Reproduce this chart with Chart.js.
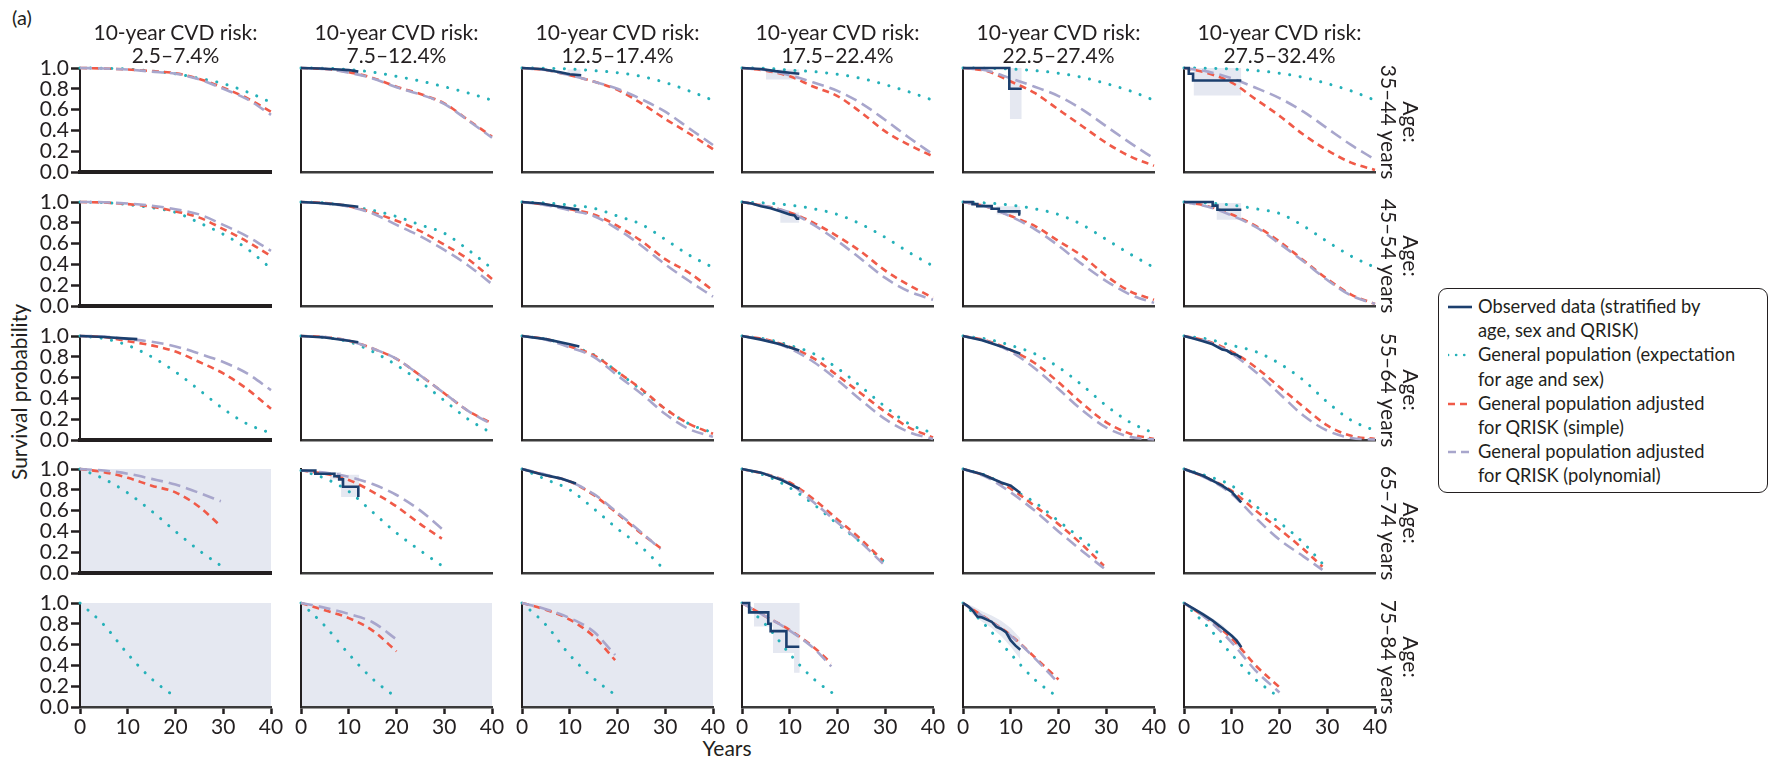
<!DOCTYPE html>
<html lang="en">
<head>
<meta charset="UTF-8">
<title>Survival by age and QRISK band</title>
<script src="https://cdn.jsdelivr.net/npm/chart.js"></script>
<style>
  body { margin: 0; background: #fff; font-family: Lato, "Open Sans", sans-serif; color: #231f20; }
  #wrap { position: relative; width: 1769px; height: 764px; overflow: hidden; }
  #wrap canvas { position: absolute; }
  .txt { position: absolute; font-size: 21px; line-height: 23.4px; white-space: nowrap; text-align: center; }
  .rot { position: absolute; font-size: 21px; line-height: 21.5px; white-space: nowrap; text-align: center; transform: translate(-50%, -50%) rotate(90deg); }
  #legend { position: absolute; left: 1438px; top: 288px; width: 330px; height: 205px; box-sizing: border-box;
            border: 1.5px solid #231f20; border-radius: 9px; padding-top: 5px; font-size: 18.3px; line-height: 24.2px; }
  .entry { position: relative; padding-left: 39px; white-space: nowrap; }
  .entry svg { position: absolute; left: 9px; top: 10px; }
</style>
</head>
<body>
<div id="wrap">
  <div class="txt" style="left:12px;top:6px;text-align:left;font-size:20px;">(a)</div>
  <div class="txt" style="left:727px;top:736px;transform:translateX(-50%);">Years</div>
  <div class="txt" style="left:19px;top:392px;transform:translate(-50%,-50%) rotate(-90deg);">Survival probability</div>
  <div id="legend"></div>
</div>

<script>
// ---- labels ----
const risks = ['2.5\u20137.4%', '7.5\u201312.4%', '12.5\u201317.4%', '17.5\u201322.4%', '22.5\u201327.4%', '27.5\u201332.4%'];
const ages = ['35\u201344 years', '45\u201354 years', '55\u201364 years', '65\u201374 years', '75\u201384 years'];
const legendLabels = [
  ['Observed data (stratified by', 'age, sex and QRISK)'],
  ['General population (expectation', 'for age and sex)'],
  ['General population adjusted', 'for QRISK (simple)'],
  ['General population adjusted', 'for QRISK (polynomial)']
];

// ---- x grids (years) ----
const years40 = [0, 5, 10, 15, 20, 25, 30, 35, 40];
const years30 = [0, 5, 10, 15, 20, 25, 30];
const years20 = [0, 5, 10, 15, 20];
// last year reached by the model curves in the two older rows
const lastYear65 = [29.5, 29.5, 29, 29.5, 29.5, 29];
const lastYear75 = [20, 20, 19.5, 18.7, 20, 20];

// ---- age 35-44 ----
const gp35 = [
  [1, 0.998, 0.99, 0.97, 0.945, 0.90, 0.85, 0.77, 0.67],
  [1, 0.997, 0.985, 0.96, 0.92, 0.875, 0.82, 0.76, 0.69],
  [1, 0.998, 0.99, 0.975, 0.955, 0.92, 0.86, 0.78, 0.69],
  [1, 0.997, 0.98, 0.965, 0.94, 0.90, 0.84, 0.77, 0.69],
  [1, 0.998, 0.99, 0.975, 0.95, 0.91, 0.85, 0.78, 0.69],
  [1, 0.998, 0.99, 0.975, 0.95, 0.91, 0.85, 0.78, 0.69]
];
const sm35 = [
  [1, 0.995, 0.985, 0.97, 0.95, 0.895, 0.81, 0.71, 0.58],
  [1, 0.99, 0.96, 0.905, 0.82, 0.75, 0.66, 0.50, 0.34],
  [1, 0.98, 0.93, 0.87, 0.79, 0.66, 0.51, 0.37, 0.22],
  [1, 0.975, 0.92, 0.82, 0.73, 0.57, 0.39, 0.26, 0.15],
  [1, 0.97, 0.87, 0.76, 0.60, 0.44, 0.28, 0.15, 0.06],
  [1, 0.95, 0.86, 0.70, 0.54, 0.36, 0.21, 0.09, 0.02]
];
const pl35 = [
  [1, 0.995, 0.985, 0.965, 0.945, 0.89, 0.80, 0.70, 0.55],
  [1, 0.99, 0.955, 0.90, 0.815, 0.745, 0.655, 0.495, 0.33],
  [1, 0.98, 0.93, 0.87, 0.80, 0.70, 0.58, 0.42, 0.26],
  [1, 0.98, 0.93, 0.86, 0.78, 0.66, 0.50, 0.33, 0.17],
  [1, 0.975, 0.90, 0.82, 0.73, 0.60, 0.44, 0.28, 0.13],
  [1, 0.965, 0.90, 0.81, 0.71, 0.58, 0.42, 0.26, 0.12]
];
const obs35 = [
  null,
  [[0, 1], [4, 0.995], [8, 0.985], [10, 0.98], [12, 0.965]],
  [[0, 1], [4, 0.99], [8, 0.96], [10, 0.94], [12.4, 0.93]],
  [[0, 1], [4, 0.99], [7, 0.97], [10, 0.955], [12, 0.945]],
  [[0, 1], [9.7, 0.80], [12.3, 0.80]],
  [[0, 1], [1, 0.945], [1.9, 0.88], [12, 0.88]]
];
const ci35 = [
  null, null,
  [[9.5, 0.92, 0.985], [12.3, 0.92, 0.985]],
  [[5, 0.89, 0.985], [12, 0.89, 0.985]],
  [[9.8, 0.51, 1], [12.3, 0.51, 1]],
  [[2, 0.735, 1], [12, 0.735, 1]]
];
const step35 = [false, false, false, false, true, true];

// ---- age 45-54 ----
const gp45 = [
  [1, 0.995, 0.975, 0.945, 0.90, 0.80, 0.69, 0.55, 0.36],
  [1, 0.99, 0.96, 0.92, 0.86, 0.78, 0.70, 0.54, 0.36],
  [1, 0.99, 0.97, 0.94, 0.865, 0.785, 0.64, 0.49, 0.37],
  [1, 0.99, 0.97, 0.935, 0.88, 0.785, 0.66, 0.515, 0.385],
  [1, 0.99, 0.97, 0.935, 0.88, 0.78, 0.64, 0.50, 0.37],
  [1, 0.99, 0.97, 0.935, 0.89, 0.77, 0.62, 0.48, 0.37]
];
const sm45 = [
  [1, 0.995, 0.98, 0.955, 0.91, 0.85, 0.74, 0.62, 0.48],
  [1, 0.99, 0.96, 0.90, 0.82, 0.72, 0.59, 0.45, 0.26],
  [1, 0.975, 0.93, 0.88, 0.77, 0.625, 0.45, 0.32, 0.15],
  [1, 0.96, 0.90, 0.80, 0.67, 0.52, 0.34, 0.20, 0.08],
  [1, 0.955, 0.865, 0.77, 0.625, 0.48, 0.29, 0.14, 0.06],
  [1, 0.96, 0.88, 0.77, 0.62, 0.44, 0.26, 0.11, 0.02]
];
const pl45 = [
  [1, 0.997, 0.985, 0.965, 0.93, 0.88, 0.78, 0.67, 0.53],
  [1, 0.985, 0.955, 0.89, 0.78, 0.67, 0.54, 0.39, 0.21],
  [1, 0.97, 0.92, 0.865, 0.74, 0.58, 0.40, 0.24, 0.09],
  [1, 0.96, 0.90, 0.78, 0.625, 0.45, 0.27, 0.14, 0.06],
  [1, 0.955, 0.86, 0.74, 0.58, 0.40, 0.24, 0.11, 0.03],
  [1, 0.955, 0.87, 0.76, 0.60, 0.43, 0.25, 0.10, 0.02]
];
const obs45 = [
  null,
  [[0, 1], [4, 0.99], [8, 0.975], [12, 0.955]],
  [[0, 1], [4, 0.985], [8, 0.955], [12, 0.925]],
  [[0, 1], [2, 0.985], [4, 0.96], [6, 0.94], [8, 0.91], [10, 0.88], [11, 0.87], [11.5, 0.84], [12, 0.84]],
  [[0, 1], [2, 0.98], [3, 0.96], [6, 0.935], [7.5, 0.91], [11.8, 0.88], [12, 0.88]],
  [[0, 1], [6, 0.965], [7, 0.925], [12, 0.925]]
];
const ci45 = [
  null, null, null,
  [[8, 0.80, 0.90], [12, 0.80, 0.90]],
  [[7, 0.88, 0.96], [12, 0.88, 0.96]],
  [[6.8, 0.83, 0.99], [12, 0.83, 0.99]]
];
const step45 = [false, false, false, false, true, true];

// ---- age 55-64 ----
const gp55 = [
  [1, 0.975, 0.91, 0.80, 0.655, 0.48, 0.30, 0.155, 0.065],
  [1, 0.985, 0.945, 0.85, 0.72, 0.56, 0.38, 0.20, 0.065],
  [1, 0.97, 0.905, 0.82, 0.655, 0.48, 0.30, 0.155, 0.07],
  [1, 0.97, 0.91, 0.83, 0.69, 0.51, 0.32, 0.155, 0.065],
  [1, 0.97, 0.91, 0.83, 0.70, 0.525, 0.33, 0.17, 0.065],
  [1, 0.97, 0.91, 0.85, 0.735, 0.575, 0.365, 0.19, 0.09]
];
const sm55 = [
  [1, 0.99, 0.95, 0.91, 0.85, 0.75, 0.64, 0.49, 0.30],
  [1, 0.99, 0.955, 0.88, 0.78, 0.62, 0.45, 0.28, 0.16],
  [1, 0.97, 0.90, 0.815, 0.655, 0.49, 0.30, 0.155, 0.06],
  [1, 0.965, 0.895, 0.785, 0.62, 0.445, 0.27, 0.12, 0.025],
  [1, 0.955, 0.865, 0.74, 0.555, 0.35, 0.17, 0.06, 0.01],
  [1, 0.95, 0.85, 0.70, 0.51, 0.32, 0.14, 0.04, 0.01]
];
const pl55 = [
  [1, 0.995, 0.97, 0.945, 0.90, 0.83, 0.75, 0.64, 0.48],
  [1, 0.99, 0.955, 0.88, 0.78, 0.62, 0.45, 0.28, 0.15],
  [1, 0.965, 0.89, 0.80, 0.62, 0.445, 0.25, 0.105, 0.03],
  [1, 0.96, 0.88, 0.75, 0.575, 0.38, 0.20, 0.075, 0.01],
  [1, 0.95, 0.85, 0.69, 0.49, 0.285, 0.12, 0.03, 0.005],
  [1, 0.945, 0.83, 0.655, 0.445, 0.235, 0.09, 0.02, 0.005]
];
const obs55 = [
  [[0, 1], [5, 0.99], [10, 0.975], [12, 0.97]],
  [[0, 1], [5, 0.985], [10, 0.955], [12, 0.94]],
  [[0, 1], [5, 0.97], [10, 0.92], [12, 0.90]],
  [[0, 1], [4, 0.965], [8, 0.92], [12, 0.86]],
  [[0, 1], [4, 0.96], [8, 0.90], [12, 0.83]],
  [[0, 1], [2, 0.975], [4, 0.95], [6, 0.92], [8, 0.87], [9, 0.86], [10, 0.83], [11, 0.82], [12, 0.79]]
];
const ci55 = [null, null, null, null, null, null];
const step55 = [false, false, false, false, false, false];

// ---- age 65-74 ----
const gp65 = [
  [1, 0.905, 0.77, 0.595, 0.40, 0.215, 0.07],
  [0.985, 0.91, 0.785, 0.585, 0.385, 0.215, 0.07],
  [1, 0.90, 0.80, 0.62, 0.425, 0.25, 0.07],
  [1, 0.935, 0.82, 0.66, 0.47, 0.29, 0.12],
  [1, 0.935, 0.81, 0.68, 0.50, 0.32, 0.145],
  [1, 0.93, 0.84, 0.645, 0.485, 0.29, 0.09]
];
const sm65 = [
  [1, 0.97, 0.915, 0.84, 0.775, 0.635, 0.45],
  [0.985, 0.955, 0.895, 0.78, 0.64, 0.47, 0.33],
  [1, 0.94, 0.88, 0.75, 0.57, 0.38, 0.24],
  [1, 0.95, 0.87, 0.71, 0.515, 0.32, 0.12],
  [1, 0.93, 0.81, 0.645, 0.47, 0.27, 0.07],
  [1, 0.91, 0.79, 0.60, 0.42, 0.23, 0.06]
];
const pl65 = [
  [1, 0.985, 0.955, 0.905, 0.85, 0.77, 0.69],
  [0.985, 0.965, 0.925, 0.855, 0.75, 0.60, 0.425],
  [1, 0.945, 0.88, 0.76, 0.58, 0.39, 0.23],
  [1, 0.95, 0.86, 0.68, 0.485, 0.29, 0.09],
  [1, 0.92, 0.775, 0.60, 0.40, 0.21, 0.045],
  [1, 0.905, 0.76, 0.53, 0.32, 0.16, 0.03]
];
const obs65 = [
  null,
  [[0, 0.985], [3, 0.955], [7, 0.93], [8, 0.90], [8.8, 0.83], [12, 0.73]],
  [[0, 1], [4, 0.95], [8, 0.91], [11.3, 0.86]],
  [[0, 1], [4, 0.965], [8, 0.90], [12, 0.81]],
  [[0, 1], [4, 0.95], [8, 0.87], [10, 0.84], [12, 0.77]],
  [[0, 1], [4, 0.935], [8, 0.84], [10, 0.78], [12, 0.68]]
];
const ci65 = [
  null,
  [[6, 0.90, 0.97], [8.4, 0.73, 0.945], [12.2, 0.73, 0.945]],
  null, null, null, null
];
const step65 = [false, true, false, false, false, false];

// ---- age 75-84 ----
const gp75 = [
  [1, 0.79, 0.51, 0.27, 0.095],
  [1, 0.78, 0.51, 0.27, 0.09],
  [1, 0.79, 0.50, 0.275, 0.10],
  [1, 0.79, 0.51, 0.27, 0.10],
  [1, 0.77, 0.51, 0.265, 0.09],
  [1, 0.77, 0.505, 0.265, 0.09]
];
const sm75 = [
  null,
  [1, 0.93, 0.855, 0.735, 0.535],
  [1, 0.935, 0.84, 0.68, 0.45],
  [1, 0.87, 0.74, 0.575, 0.42],
  [1, 0.85, 0.69, 0.48, 0.265],
  [1, 0.845, 0.66, 0.40, 0.19]
];
const pl75 = [
  null,
  [1, 0.955, 0.895, 0.815, 0.65],
  [1, 0.94, 0.855, 0.725, 0.50],
  [1, 0.87, 0.735, 0.565, 0.39],
  [1, 0.845, 0.685, 0.47, 0.23],
  [1, 0.84, 0.62, 0.35, 0.14]
];
const obs75 = [
  null, null, null,
  [[0, 1], [1.5, 0.91], [5.5, 0.80], [6, 0.73], [9.3, 0.58], [12, 0.58]],
  [[0, 1], [1, 0.97], [2, 0.93], [3, 0.87], [4, 0.86], [5, 0.84], [6, 0.82], [7, 0.77], [8, 0.75], [9, 0.72], [10, 0.64], [11, 0.59], [12, 0.55]],
  [[0, 1], [2, 0.945], [4, 0.89], [6, 0.83], [8, 0.76], [10, 0.685], [11, 0.64], [12, 0.575]]
];
const ci75 = [
  null, null, null,
  [[2.5, 0.775, 1], [6.5, 0.52, 1], [10.9, 0.33, 1], [12.1, 0.33, 1]],
  [[0, 1, 1], [2, 0.89, 0.97], [4, 0.82, 0.92], [6, 0.76, 0.88], [8, 0.68, 0.83], [10, 0.58, 0.76], [12, 0.46, 0.66]],
  [[0, 1, 1], [4, 0.86, 0.91], [8, 0.73, 0.79], [12, 0.54, 0.61]]
];
const step75 = [false, false, false, true, false, false];

// panels whose whole plotting area is shaded (no observed data)
const shaded65 = [true, false, false, false, false, false];
const shaded75 = [true, true, true, false, false, false];

const rows = [
  { grid: years40, last: null, gp: gp35, sm: sm35, pl: pl35, obs: obs35, ci: ci35, step: step35, bg: null },
  { grid: years40, last: null, gp: gp45, sm: sm45, pl: pl45, obs: obs45, ci: ci45, step: step45, bg: null },
  { grid: years40, last: null, gp: gp55, sm: sm55, pl: pl55, obs: obs55, ci: ci55, step: step55, bg: null },
  { grid: years30, last: lastYear65, gp: gp65, sm: sm65, pl: pl65, obs: obs65, ci: ci65, step: step65, bg: shaded65 },
  { grid: years20, last: lastYear75, gp: gp75, sm: sm75, pl: pl75, obs: obs75, ci: ci75, step: step75, bg: shaded75 }
];

// ---- layout ----
const colLeft = [80, 301, 522, 742, 963, 1184];
const rowTop = [68, 202, 336, 469, 603];
const PW = 191, PH = 104;
const PAD_L = 70, PAD_R = 18, PAD_T = 16, PAD_B = 44;

const INK = '#231f20';
const NAVY = '#1c3f6e';
const TEAL = '#25b1b9';
const RED = '#f05a48';
const LAV = '#a8a6cc';
const SHADE = '#e5e8f1';

Chart.defaults.font.family = 'Lato, "Open Sans", sans-serif';
Chart.defaults.font.size = 21;
Chart.defaults.color = INK;

const wrap = document.getElementById('wrap');

const panelBg = {
  id: 'panelBg',
  beforeDraw(chart, args, opts) {
    if (!opts.on) return;
    const a = chart.chartArea;
    const ctx = chart.ctx;
    ctx.save();
    ctx.fillStyle = SHADE;
    ctx.fillRect(a.left, a.top, a.right - a.left, a.bottom - a.top);
    ctx.restore();
  }
};

function curve(xs, ys, last, color, dash, cap, width) {
  const pts = ys.map((y, i) => ({ x: (last && i === ys.length - 1) ? last : xs[i], y: y }));
  return {
    data: pts, borderColor: color, borderWidth: width || 2.6, borderDash: dash, borderCapStyle: cap || 'butt',
    cubicInterpolationMode: 'monotone', pointRadius: 0, fill: false, clip: 6
  };
}

function makePanel(r, c) {
  const row = rows[r];
  const cv = document.createElement('canvas');
  cv.width = PAD_L + PW + PAD_R;
  cv.height = PAD_T + PH + PAD_B;
  cv.style.left = (colLeft[c] - PAD_L) + 'px';
  cv.style.top = (rowTop[r] - PAD_T) + 'px';
  wrap.appendChild(cv);

  const last = row.last ? row.last[c] : null;
  // Kaplan-Meier style: hold each value until the next event
  const stepped = row.step[c] ? 'before' : false;
  const ds = [];
  if (row.obs[c]) {
    ds.push({
      data: row.obs[c].map(p => ({ x: p[0], y: p[1] })), borderColor: NAVY, borderWidth: 2.6,
      stepped: stepped, tension: 0, pointRadius: 0, fill: false, clip: 6
    });
  }
  if (row.pl[c]) ds.push(curve(row.grid, row.pl[c], last, LAV, [12, 6]));
  if (row.sm[c]) ds.push(curve(row.grid, row.sm[c], last, RED, [7, 5]));
  ds.push(curve(row.grid, row.gp[c], r === 4 ? null : last, TEAL, [0.1, 10.5], 'round', 3));
  if (row.ci[c]) {
    ds.push({ data: row.ci[c].map(p => ({ x: p[0], y: p[2] })), borderWidth: 0, pointRadius: 0,
              backgroundColor: SHADE, fill: '+1', stepped: stepped, tension: 0, clip: 6 });
    ds.push({ data: row.ci[c].map(p => ({ x: p[0], y: p[1] })), borderWidth: 0, pointRadius: 0,
              fill: false, stepped: stepped, tension: 0, clip: 6 });
  }

  const firstCol = c === 0;
  const lastRow = r === 4;
  new Chart(cv, {
    type: 'line',
    data: { datasets: ds },
    options: {
      responsive: false, animation: false, events: [],
      layout: { padding: { left: 0, top: PAD_T, right: PAD_R, bottom: 0 } },
      plugins: { legend: { display: false }, tooltip: { enabled: false }, panelBg: { on: row.bg ? row.bg[c] : false } },
      scales: {
        x: {
          type: 'linear', min: 0, max: 40,
          afterFit(s) { s.height = PAD_B; },
          ticks: { display: lastRow, stepSize: 10, autoSkip: false, padding: 1, maxRotation: 0, color: INK },
          grid: { display: lastRow, drawOnChartArea: false, drawTicks: true, tickLength: 7, tickWidth: 2.5, tickColor: INK },
          border: { display: true, color: firstCol && !lastRow ? INK : '#3b3b3b', width: firstCol && !lastRow ? 4 : 2.5 }
        },
        y: {
          type: 'linear', min: 0, max: 1,
          afterFit(s) { s.width = PAD_L; },
          ticks: { display: firstCol, stepSize: 0.2, autoSkip: false, padding: 2, color: INK, callback: v => v.toFixed(1) },
          grid: { display: firstCol, drawOnChartArea: false, drawTicks: true, tickLength: 9, tickWidth: 2.5, tickColor: INK },
          border: { display: true, color: INK, width: 2 }
        }
      }
    },
    plugins: [panelBg]
  });
}

for (let r = 0; r < rows.length; r++) {
  for (let c = 0; c < risks.length; c++) makePanel(r, c);
}

// column titles
risks.forEach((t, c) => {
  const d = document.createElement('div');
  d.className = 'txt';
  d.style.left = (colLeft[c] + PW / 2) + 'px';
  d.style.top = '20px';
  d.style.transform = 'translateX(-50%)';
  d.innerHTML = '10-year CVD risk:<br>' + t;
  wrap.appendChild(d);
});

// row titles (rotated clockwise, right side)
ages.forEach((t, r) => {
  const d = document.createElement('div');
  d.className = 'rot';
  d.style.left = '1400px';
  d.style.top = (rowTop[r] + PH / 2 + 2) + 'px';
  d.innerHTML = 'Age:<br>' + t;
  wrap.appendChild(d);
});

// legend
const legendStyles = [
  { color: NAVY, dash: '', cap: 'butt' },
  { color: TEAL, dash: '0.1 8', cap: 'round' },
  { color: RED, dash: '7 5', cap: 'butt' },
  { color: LAV, dash: '8 5', cap: 'butt' }
];
const legend = document.getElementById('legend');
legendLabels.forEach((lines, i) => {
  const e = document.createElement('div');
  e.className = 'entry';
  const s = legendStyles[i];
  e.innerHTML = '<svg width="26" height="6"><line x1="0" y1="3" x2="24" y2="3" stroke="' + s.color +
    '" stroke-width="2.6" stroke-linecap="' + s.cap + '"' + (s.dash ? ' stroke-dasharray="' + s.dash + '"' : '') +
    '/></svg>' + lines.join('<br>');
  legend.appendChild(e);
});
</script>
</body>
</html>
